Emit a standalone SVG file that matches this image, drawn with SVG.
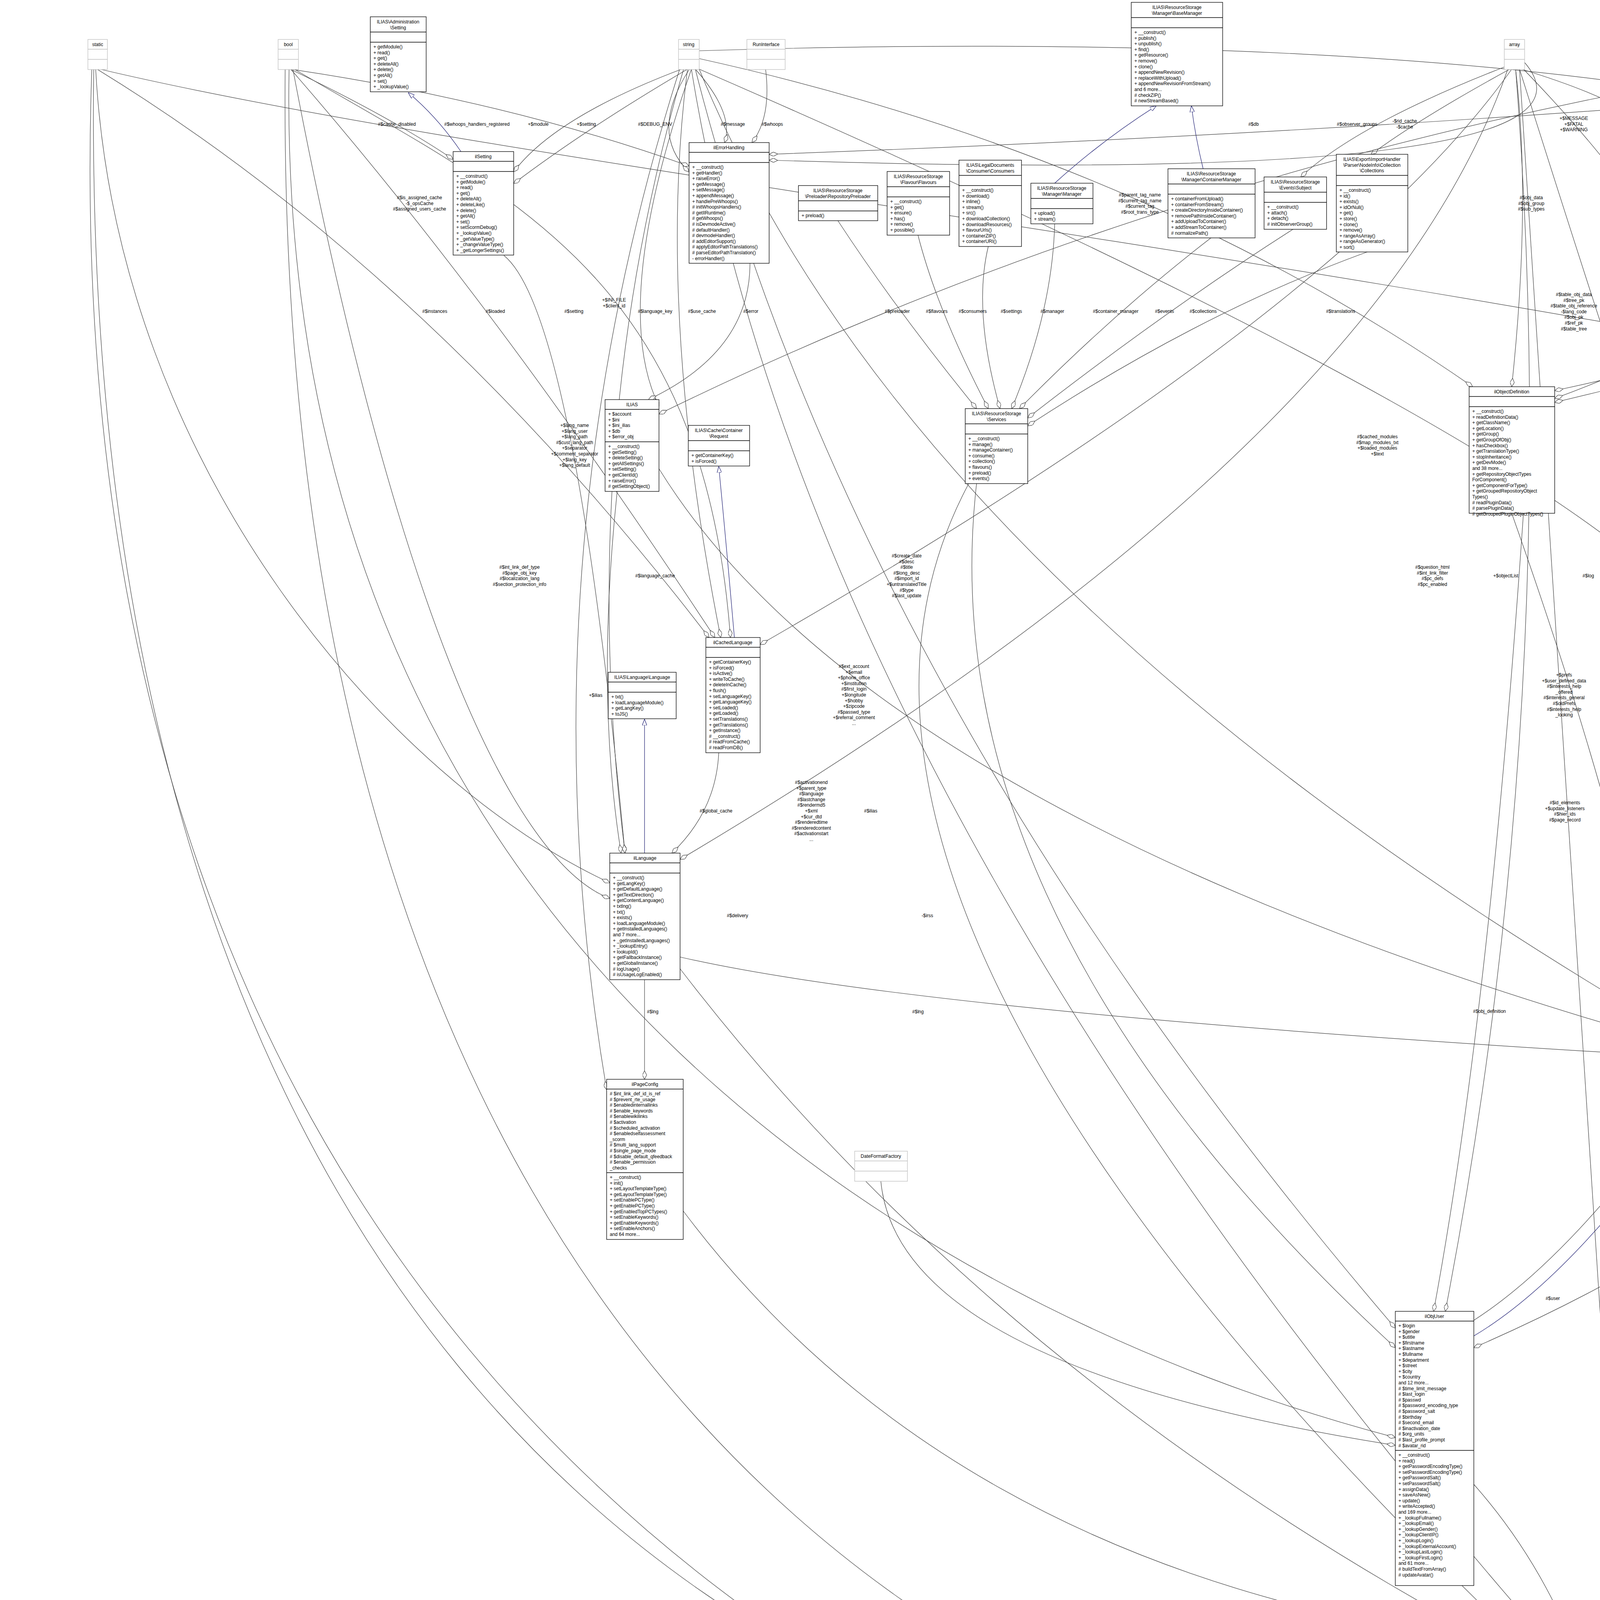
<svg xmlns="http://www.w3.org/2000/svg" width="6706" height="5247" viewBox="0 0 6706 5247">
<style>
text{font-family:"Liberation Sans",Arial,sans-serif;font-size:12px;fill:#000}
.c{text-anchor:middle}
.b{fill:#fff;stroke:#000;stroke-width:1.3}
.g{fill:#fff;stroke:#bfbfbf;stroke-width:1.3}
.p{fill:#bfbfbf;stroke:#000;stroke-width:1.3}
.l{stroke:#000;stroke-width:1.3}
.lg{stroke:#bfbfbf;stroke-width:1.3}
.e{fill:none;stroke:#404040;stroke-width:1.2;marker-end:url(#d)}
.h{fill:none;stroke:#191970;stroke-width:1.2;marker-end:url(#t)}
</style>
<defs>
<marker id="d" viewBox="0 0 22 11" refX="22" refY="5.5" markerWidth="22" markerHeight="11" markerUnits="userSpaceOnUse" orient="auto"><path d="M0,5.5 L11,0 L22,5.5 L11,11 Z" fill="#fff" stroke="#404040" stroke-width="1.2"/></marker>
<marker id="t" viewBox="0 0 16 12" refX="16" refY="6" markerWidth="16" markerHeight="12" markerUnits="userSpaceOnUse" orient="auto"><path d="M0,0 L16,6 L0,12 Z" fill="#fff" stroke="#191970" stroke-width="1.2"/></marker>
</defs>
<rect width="6706" height="5247" fill="#fff"/>

<g id="connectors">
<path class="h" d="M1180,388 Q1120,300 1045,237"/>
<path class="e" d="M745,178 Q1000,300 1160,408"/>
<path class="e" d="M750,178 Q1300,260 1764,425"/>
<path class="e" d="M1745,177 Q1420,300 1315,440"/>
<path class="e" d="M1760,177 Q1500,330 1315,470"/>
<path class="e" d="M1765,177 Q1660,340 1764,440"/>
<path class="e" d="M1780,177 Q1880,290 1855,365"/>
<path class="e" d="M1960,178 Q1975,300 1925,365"/>
<path class="e" d="M1770,177 Q1560,780 1687,1040"/>
<path class="e" d="M1290,654 Q1470,800 1600,2184"/>
<path class="e" d="M250,178 Q1100,700 1815,1632"/>
<path class="e" d="M745,178 Q1270,780 1830,1632"/>
<path class="e" d="M1760,177 Q1680,800 1845,1632"/>
<path class="e" d="M755,178 C1300,500 1800,700 1870,1632"/>
<path class="e" d="M1920,674 Q1920,900 1660,1023"/>
<path class="e" d="M2145,565 Q2297,797 2500,1046"/>
<path class="e" d="M2350,602 Q2400,797 2530,1046"/>
<path class="e" d="M2530,631 Q2490,797 2560,1046"/>
<path class="e" d="M2700,573 Q2694,797 2590,1046"/>
<path class="e" d="M3100,609 Q2856,797 2610,1046"/>
<path class="e" d="M3310,587 Q2981,797 2631,1070"/>
<path class="e" d="M3500,645 Q3080,797 2631,1090"/>
<path class="h" d="M2700,469 Q2820,360 2960,271"/>
<path class="h" d="M3080,432 Q3060,350 3050,271"/>
<path class="e" d="M1790,150 Q2920,400 3770,990"/>
<path class="e" d="M5022,100 Q3200,320 1687,1060"/>
<path class="e" d="M3855,170 Q3474,318 3330,453"/>
<path class="e" d="M3865,177 Q3640,300 3510,395"/>
<path class="e" d="M3870,177 Q3432,797 1946,1650"/>
<path class="e" d="M3880,177 Q3920,520 3870,990"/>
<path class="e" d="M5712,140 Q4030,320 1969,395"/>
<path class="e" d="M3903,160 Q4180,480 1969,410"/>
<path class="e" d="M3895,177 Q4356,318 4250,453"/>
<path class="e" d="M3900,177 Q4484,781 4340,1089"/>
<path class="e" d="M5720,177 Q5030,780 3980,1000"/>
<path class="e" d="M1790,177 Q4030,1150 4375,1620"/>
<path class="e" d="M3890,177 Q4213,1200 4375,1650"/>
<path class="e" d="M4250,587 Q4388,797 4330,1089"/>
<path class="e" d="M4600,566 Q4584,797 3980,1020"/>
<path class="e" d="M4740,631 Q4706,797 4420,1089"/>
<path class="e" d="M4780,631 Q4526,1140 4470,1588"/>
<path class="e" d="M5150,646 Q4964,797 3980,1030"/>
<path class="e" d="M5200,646 Q5141,797 4439,1100"/>
<path class="e" d="M4834,620 Q5259,797 5100,920"/>
<path class="e" d="M5200,264 Q5322,797 5200,920"/>
<path class="e" d="M5100,264 Q4249,1470 4430,1588"/>
<path class="e" d="M4760,631 Q4066,1474 4260,2570"/>
<path class="e" d="M4370,1194 Q4421,1474 4430,1588"/>
<path class="e" d="M4650,1252 Q4622,1474 4520,1588"/>
<path class="e" d="M5150,1361 Q5118,1474 5000,1654"/>
<path class="e" d="M4800,631 Q4700,1780 4300,2570"/>
<path class="e" d="M3870,1314 Q4140,2077 4230,2570"/>
<path class="e" d="M4340,1194 Q4354,2077 4260,2570"/>
<path class="e" d="M5100,1361 Q4635,2077 4420,2570"/>
<path class="e" d="M4450,1969 Q4438,2344 4300,2570"/>
<path class="e" d="M4900,1905 Q4710,2344 4440,2600"/>
<path class="e" d="M4840,2385 Q4823,2590 4440,2700"/>
<path class="e" d="M5050,2478 Q5042,2590 4440,2720"/>
<path class="e" d="M5270,2405 Q5244,2590 4440,2740"/>
<path class="e" d="M1790,177 Q2321,1480 4210,2600"/>
<path class="e" d="M1780,177 Q2186,1780 3572,3400"/>
<path class="e" d="M1750,177 Q1471,1140 1600,2184"/>
<path class="e" d="M1740,177 Q1330,1470 1553,2790"/>
<path class="e" d="M1580,1258 Q1525,1780 1590,2184"/>
<path class="e" d="M1687,1200 Q2229,2076 4210,2650"/>
<path class="h" d="M1880,1632 Q1860,1400 1840,1194"/>
<path class="h" d="M1650,2184 L1650,1841"/>
<path class="e" d="M1840,1927 Q1833,2076 1720,2184"/>
<path class="e" d="M3860,177 Q3526,1140 1741,2200"/>
<path class="e" d="M1770,177 Q2077,2080 4046,4300"/>
<path class="e" d="M2500,1238 Q2374,2344 3572,3450"/>
<path class="e" d="M2480,1238 Q1888,2344 4046,4350"/>
<path class="e" d="M1650,2508 L1650,2763"/>
<path class="e" d="M1741,2450 Q2350,2590 4210,2700"/>
<path class="e" d="M1741,2480 Q2600,3600 4046,4320"/>
<path class="e" d="M2255,3024 Q2300,3500 3572,3700"/>
<path class="e" d="M3900,1314 Q3813,2589 3670,3357"/>
<path class="h" d="M3773,3420 Q3975,3300 4210,3000"/>
<path class="e" d="M3773,3380 Q3975,3250 4210,2950"/>
<path class="e" d="M3880,177 Q4004,1780 3700,3357"/>
<path class="e" d="M3890,177 Q4006,2080 4150,4187"/>
<path class="e" d="M1749,3100 Q2500,4100 4046,4230"/>
<path class="e" d="M3773,3800 Q3950,4000 4046,4260"/>
<path class="e" d="M4330,3199 Q4200,3700 4150,4187"/>
<path class="h" d="M5900,4813 Q5100,4700 4280,4620"/>
<path class="e" d="M5745,177 Q6300,2500 6003,4813"/>
<path class="e" d="M6095,178 C6700,1500 6700,4400 6047,4990"/>
<path class="e" d="M5745,4547 Q5000,4600 4280,4600"/>
<path class="e" d="M5875,4547 Q5100,4620 4280,4610"/>
<path class="e" d="M6012,4547 Q5200,4560 4280,4580"/>
<path class="e" d="M5557,2377 Q5000,4200 4280,4560"/>
<path class="e" d="M1790,130 C4000,60 5650,300 5700,1010"/>
<path class="e" d="M5725,178 Q5560,500 5278,980"/>
<path class="e" d="M5715,178 Q5560,360 5361,420"/>
<path class="e" d="M5735,178 Q5560,1100 4599,1600"/>
<path class="e" d="M5750,178 Q5590,2460 4440,2580"/>
<path class="e" d="M5740,178 Q5160,2450 4280,4240"/>
<path class="e" d="M5760,178 Q5900,2525 3773,3450"/>
<path class="e" d="M5259,200 Q5700,2800 4280,4400"/>
<path class="e" d="M6090,178 Q5900,3500 6047,4900"/>
<path class="e" d="M240,178 C200,3000 1500,4700 4046,4700"/>
<path class="e" d="M730,178 C700,3500 2500,4600 4046,4680"/>
<path class="e" d="M235,178 C100,4000 3000,5247 5837,5100"/>
<path class="e" d="M740,178 C700,2500 2500,3400 3572,3680"/>
<path class="e" d="M260,178 C1200,400 3000,600 5059,1000"/>
<path class="e" d="M750,178 C1000,1500 1300,2200 1561,2300"/>
<path class="e" d="M245,178 C300,1200 1000,2000 1561,2260"/>

<text class="c" x="1016" y="322">#$cache_disabled</text>
<text class="c" x="1221" y="322">#$whoops_handlers_registered</text>
<text class="c" x="1378" y="322">+$module</text>
<text class="c" x="1501" y="322">+$setting</text>
<text class="c" x="1677" y="322">#$DEBUG_ENV</text>
<text class="c" x="1876" y="322">#$message</text>
<text class="c" x="1977" y="322">#$whoops</text>
<text class="c" x="1074" y="510"><tspan x="1074">#$is_assigned_cache</tspan><tspan x="1074" dy="14.6">-$_opsCache</tspan><tspan x="1074" dy="14.6">#$assigned_users_cache</tspan></text>
<text class="c" x="1572" y="772"><tspan x="1572">+$INI_FILE</tspan><tspan x="1572" dy="14.6">+$client_id</tspan></text>
<text class="c" x="1113" y="801">#$instances</text>
<text class="c" x="1268" y="801">#$loaded</text>
<text class="c" x="1469" y="801">#$setting</text>
<text class="c" x="1677" y="801">#$language_key</text>
<text class="c" x="1797" y="801">#$use_cache</text>
<text class="c" x="1922" y="801">#$error</text>
<text class="c" x="2297" y="801">#$preloader</text>
<text class="c" x="2398" y="801">#$flavours</text>
<text class="c" x="2490" y="801">#$consumers</text>
<text class="c" x="2589" y="801">#$settings</text>
<text class="c" x="2694" y="801">#$manager</text>
<text class="c" x="2856" y="801">#$container_manager</text>
<text class="c" x="2981" y="801">#$events</text>
<text class="c" x="3080" y="801">#$collections</text>
<text class="c" x="3432" y="801">#$translations</text>
<text class="c" x="2918" y="503"><tspan x="2918">#$parent_tag_name</tspan><tspan x="2918" dy="14.6">#$current_tag_name</tspan><tspan x="2918" dy="14.6">#$current_tag</tspan><tspan x="2918" dy="14.6">#$root_trans_type</tspan></text>
<text class="c" x="3209" y="322">#$db</text>
<text class="c" x="3474" y="322">#$observer_groups</text>
<text class="c" x="3596" y="314"><tspan x="3596">-$rid_cache</tspan><tspan x="3596" dy="14.6">-$cache</tspan></text>
<text class="c" x="3920" y="510"><tspan x="3920">#$obj_data</tspan><tspan x="3920" dy="14.6">#$obj_group</tspan><tspan x="3920" dy="14.6">#$sub_types</tspan></text>
<text class="c" x="4029" y="307"><tspan x="4029">+$MESSAGE</tspan><tspan x="4029" dy="14.6">+$FATAL</tspan><tspan x="4029" dy="14.6">+$WARNING</tspan></text>
<text class="c" x="4179" y="314"><tspan x="4179">-SENSTIVE_PARAMETER</tspan><tspan x="4179" dy="14.6">_NAMES</tspan></text>
<text class="c" x="4356" y="322">#$event_handling_data</text>
<text class="c" x="4484" y="525">#$listener</text>
<text class="c" x="5032" y="510"><tspan x="5032">+MODE_REPOSITORY</tspan><tspan x="5032" dy="14.6">+MODE_ADMINISTRATION</tspan><tspan x="5032" dy="14.6">+MODE_WORKSPACE</tspan></text>
<text class="c" x="4029" y="758"><tspan x="4029">#$table_obj_data</tspan><tspan x="4029" dy="14.6">#$tree_pk</tspan><tspan x="4029" dy="14.6">#$table_obj_reference</tspan><tspan x="4029" dy="14.6">-$lang_code</tspan><tspan x="4029" dy="14.6">#$obj_pk</tspan><tspan x="4029" dy="14.6">#$ref_pk</tspan><tspan x="4029" dy="14.6">#$table_tree</tspan></text>
<text class="c" x="4213" y="750"><tspan x="4213">#$oc_preloaded</tspan><tspan x="4213" dy="14.6">#$translation_cache</tspan><tspan x="4213" dy="14.6">#$is_saved_cache</tspan><tspan x="4213" dy="14.6">#$in_tree_cache</tspan><tspan x="4213" dy="14.6">-$path_id_cache</tspan><tspan x="4213" dy="14.6">#$parent_cache</tspan><tspan x="4213" dy="14.6">#$parent_type_cache</tspan><tspan x="4213" dy="14.6">#$depth_cache</tspan></text>
<text class="c" x="4388" y="801">-$event_handling_data</text>
<text class="c" x="4584" y="801">#$component_factory</text>
<text class="c" x="4706" y="801">#$logger</text>
<text class="c" x="4964" y="801">#$component_repository</text>
<text class="c" x="5141" y="801">#$component_repository</text>
<text class="c" x="5259" y="801">#$log</text>
<text class="c" x="5322" y="801">#$db</text>
<text class="c" x="1471" y="1093"><tspan x="1471">+$lang_name</tspan><tspan x="1471" dy="14.6">+$lang_user</tspan><tspan x="1471" dy="14.6">+$lang_path</tspan><tspan x="1471" dy="14.6">#$cust_lang_path</tspan><tspan x="1471" dy="14.6">+$separator</tspan><tspan x="1471" dy="14.6">+$comment_separator</tspan><tspan x="1471" dy="14.6">+$lang_key</tspan><tspan x="1471" dy="14.6">+$lang_default</tspan></text>
<text class="c" x="1330" y="1456"><tspan x="1330">#$int_link_def_type</tspan><tspan x="1330" dy="14.6">#$page_obj_key</tspan><tspan x="1330" dy="14.6">#$localization_lang</tspan><tspan x="1330" dy="14.6">#$section_protection_info</tspan></text>
<text class="c" x="1677" y="1478">#$language_cache</text>
<text class="c" x="2321" y="1427"><tspan x="2321">#$create_date</tspan><tspan x="2321" dy="14.6">#$desc</tspan><tspan x="2321" dy="14.6">#$title</tspan><tspan x="2321" dy="14.6">#$long_desc</tspan><tspan x="2321" dy="14.6">#$import_id</tspan><tspan x="2321" dy="14.6">+$untranslatedTitle</tspan><tspan x="2321" dy="14.6">#$type</tspan><tspan x="2321" dy="14.6">#$last_update</tspan></text>
<text class="c" x="2186" y="1710"><tspan x="2186">#$ext_account</tspan><tspan x="2186" dy="14.6">+$email</tspan><tspan x="2186" dy="14.6">+$phone_office</tspan><tspan x="2186" dy="14.6">+$institution</tspan><tspan x="2186" dy="14.6">#$first_login</tspan><tspan x="2186" dy="14.6">+$longitude</tspan><tspan x="2186" dy="14.6">+$hobby</tspan><tspan x="2186" dy="14.6">+$zipcode</tspan><tspan x="2186" dy="14.6">#$passwd_type</tspan><tspan x="2186" dy="14.6">+$referral_comment</tspan><tspan x="2186" dy="14.6">...</tspan></text>
<text class="c" x="1525" y="1784">+$ilias</text>
<text class="c" x="1833" y="2080">#$global_cache</text>
<text class="c" x="2077" y="2007"><tspan x="2077">#$activationend</tspan><tspan x="2077" dy="14.6">+$parent_type</tspan><tspan x="2077" dy="14.6">#$language</tspan><tspan x="2077" dy="14.6">#$lastchange</tspan><tspan x="2077" dy="14.6">#$rendermd5</tspan><tspan x="2077" dy="14.6">+$xml</tspan><tspan x="2077" dy="14.6">+$cur_dtd</tspan><tspan x="2077" dy="14.6">#$renderedtime</tspan><tspan x="2077" dy="14.6">#$renderedcontent</tspan><tspan x="2077" dy="14.6">#$activationstart</tspan><tspan x="2077" dy="14.6">...</tspan></text>
<text class="c" x="2229" y="2080">#$ilias</text>
<text class="c" x="1888" y="2348">#$delivery</text>
<text class="c" x="2374" y="2348">-$irss</text>
<text class="c" x="1671" y="2594">#$lng</text>
<text class="c" x="2350" y="2594">#$lng</text>
<text class="c" x="3526" y="1122"><tspan x="3526">#$cached_modules</tspan><tspan x="3526" dy="14.6">#$map_modules_txt</tspan><tspan x="3526" dy="14.6">+$loaded_modules</tspan><tspan x="3526" dy="14.6">+$text</tspan></text>
<text class="c" x="3667" y="1456"><tspan x="3667">#$question_html</tspan><tspan x="3667" dy="14.6">#$int_link_filter</tspan><tspan x="3667" dy="14.6">#$pc_defs</tspan><tspan x="3667" dy="14.6">#$pc_enabled</tspan></text>
<text class="c" x="3855" y="1478">+$objectList</text>
<text class="c" x="4066" y="1478">#$log</text>
<text class="c" x="4249" y="1478">#$db</text>
<text class="c" x="4421" y="1478">#$eventHandler</text>
<text class="c" x="4622" y="1478">-$tree_impl</text>
<text class="c" x="4526" y="1144">#$logger</text>
<text class="c" x="5118" y="1478">#$rbacreview</text>
<text class="c" x="4004" y="1732"><tspan x="4004">+$prefs</tspan><tspan x="4004" dy="14.6">+$user_defined_data</tspan><tspan x="4004" dy="14.6">#$interests_help</tspan><tspan x="4004" dy="14.6">_offered</tspan><tspan x="4004" dy="14.6">#$interests_general</tspan><tspan x="4004" dy="14.6">#$oldPrefs</tspan><tspan x="4004" dy="14.6">#$interests_help</tspan><tspan x="4004" dy="14.6">_looking</tspan></text>
<text class="c" x="4697" y="1776"><tspan x="4697">#$obj_log</tspan><tspan x="4697" dy="14.6">#$log</tspan></text>
<text class="c" x="4006" y="2059"><tspan x="4006">#$id_elements</tspan><tspan x="4006" dy="14.6">+$update_listeners</tspan><tspan x="4006" dy="14.6">#$hier_ids</tspan><tspan x="4006" dy="14.6">#$page_record</tspan></text>
<text class="c" x="4140" y="2081">#$obj_definition</text>
<text class="c" x="4354" y="2081">#$app_event_handler</text>
<text class="c" x="4635" y="2081">#$rbac_review</text>
<text class="c" x="4438" y="2348">#$tree</text>
<text class="c" x="4710" y="2348">#$rbac_admin</text>
<text class="c" x="4823" y="2594">-$translations_repository</text>
<text class="c" x="5042" y="2594">-$object_properties</text>
<text class="c" x="5254" y="2594">-$properties_aggregator</text>
<text class="c" x="3813" y="2593">#$obj_definition</text>
<text class="c" x="3975" y="3328">#$user</text>
<text class="c" x="5660" y="404">+TABLE_NAME</text>
<text class="c" x="5560" y="432"><tspan x="5560">+FILTER_NOT_INTERNAL</tspan><tspan x="5560" dy="14.6">+FILTER_ALL_GLOBAL</tspan><tspan x="5560" dy="14.6">+FILTER_INTERNAL</tspan><tspan x="5560" dy="14.6">+FILTER_ALL</tspan><tspan x="5560" dy="14.6">+FILTER_TEMPLATES</tspan><tspan x="5560" dy="14.6">+FILTER_ALL_LOCAL</tspan></text>
<text class="c" x="5470" y="370">+PLUGIN_BASE_PATH</text>
<text class="c" x="5560" y="1054"><tspan x="5560">+TREE_TYPE_NESTED_SET</tspan><tspan x="5560" dy="14.6">+RELATION_PARENT</tspan><tspan x="5560" dy="14.6">+RELATION_CHILD</tspan><tspan x="5560" dy="14.6">+TREE_TYPE_MATERIALIZED</tspan><tspan x="5560" dy="14.6">_PATH</tspan><tspan x="5560" dy="14.6">#DEFAULT_LANGUAGE</tspan><tspan x="5560" dy="14.6">+RELATION_SIBLING</tspan><tspan x="5560" dy="14.6">+POS_LAST_NODE</tspan><tspan x="5560" dy="14.6">+POS_FIRST_NODE</tspan><tspan x="5560" dy="14.6">+RELATION_EQUALS</tspan><tspan x="5560" dy="14.6">+RELATION_NONE</tspan></text>
<text class="c" x="5160" y="2444"><tspan x="5160">+SEC_PROTECT_NONE</tspan><tspan x="5160" dy="14.6">+SEC_PROTECT_EDITABLE</tspan><tspan x="5160" dy="14.6">+SEC_PROTECT_PROTECTED</tspan></text>
<text class="c" x="5590" y="2444"><tspan x="5590">+TABLE_OBJECT_DATA</tspan><tspan x="5590" dy="14.6">+LONG_DESC_LENGTH</tspan><tspan x="5590" dy="14.6">+TITLE_LENGTH</tspan><tspan x="5590" dy="14.6">+DESC_LENGTH</tspan></text>
<text class="c" x="5900" y="2514"><tspan x="5900">+PASSWD_CRYPTED</tspan><tspan x="5900" dy="14.6">+NO_AVATAR_RID</tspan><tspan x="5900" dy="14.6">+PASSWD_PLAIN</tspan></text>
<text class="c" x="6625" y="2804">+TYPE_PAGE</text>
<text class="c" x="5745" y="4624">#$dom</text>
<text class="c" x="5875" y="4624">#$node</text>
<text class="c" x="6030" y="4624">#$offline_handler</text>
<text class="c" x="5450" y="3330">#$lom_services</text>
</g>

<g id="static"><rect class="g" x="225" y="101" width="50" height="77"/><line class="lg" x1="225" y1="126" x2="275" y2="126"/><line class="lg" x1="225" y1="152" x2="275" y2="152"/><text class="c" x="250" y="118">static</text></g>
<g id="bool"><rect class="g" x="712" y="101" width="52" height="77"/><line class="lg" x1="712" y1="126" x2="764" y2="126"/><line class="lg" x1="712" y1="152" x2="764" y2="152"/><text class="c" x="738" y="118">bool</text></g>
<g id="string"><rect class="g" x="1737" y="101" width="53" height="77"/><line class="lg" x1="1737" y1="126" x2="1790" y2="126"/><line class="lg" x1="1737" y1="152" x2="1790" y2="152"/><text class="c" x="1763" y="118">string</text></g>
<g id="RunInterface"><rect class="g" x="1912" y="101" width="98" height="77"/><line class="lg" x1="1912" y1="126" x2="2010" y2="126"/><line class="lg" x1="1912" y1="152" x2="2010" y2="152"/><text class="c" x="1961" y="118">RunInterface</text></g>
<g id="array"><rect class="g" x="3851" y="101" width="52" height="77"/><line class="lg" x1="3851" y1="126" x2="3903" y2="126"/><line class="lg" x1="3851" y1="152" x2="3903" y2="152"/><text class="c" x="3877" y="118">array</text></g>
<g id="int"><rect class="g" x="5712" y="101" width="42" height="77"/><line class="lg" x1="5712" y1="126" x2="5754" y2="126"/><line class="lg" x1="5712" y1="152" x2="5754" y2="152"/><text class="c" x="5733" y="118">int</text></g>
<g id="void"><rect class="g" x="6072" y="101" width="48" height="77"/><line class="lg" x1="6072" y1="126" x2="6120" y2="126"/><line class="lg" x1="6072" y1="152" x2="6120" y2="152"/><text class="c" x="6096" y="118">void</text></g>

<g id="AdministrationSetting"><rect class="b" x="948" y="43" width="143" height="192"/><line class="l" x1="948" y1="82" x2="1091" y2="82"/><line class="l" x1="948" y1="108" x2="1091" y2="108"/>
<text class="c" x="1019" y="60"><tspan x="1019">ILIAS\Administration</tspan><tspan x="1019" dy="14.6">\Setting</tspan></text>
<text x="956" y="124"><tspan x="956">+ getModule()</tspan><tspan x="956" dy="14.6">+ read()</tspan><tspan x="956" dy="14.6">+ get()</tspan><tspan x="956" dy="14.6">+ deleteAll()</tspan><tspan x="956" dy="14.6">+ delete()</tspan><tspan x="956" dy="14.6">+ getAll()</tspan><tspan x="956" dy="14.6">+ set()</tspan><tspan x="956" dy="14.6">+ _lookupValue()</tspan></text></g>

<g id="ilSetting"><rect class="b" x="1160" y="388" width="155" height="265"/><line class="l" x1="1160" y1="413" x2="1315" y2="413"/><line class="l" x1="1160" y1="439" x2="1315" y2="439"/>
<text class="c" x="1237" y="405">ilSetting</text>
<text x="1168" y="455"><tspan x="1168">+ __construct()</tspan><tspan x="1168" dy="14.6">+ getModule()</tspan><tspan x="1168" dy="14.6">+ read()</tspan><tspan x="1168" dy="14.6">+ get()</tspan><tspan x="1168" dy="14.6">+ deleteAll()</tspan><tspan x="1168" dy="14.6">+ deleteLike()</tspan><tspan x="1168" dy="14.6">+ delete()</tspan><tspan x="1168" dy="14.6">+ getAll()</tspan><tspan x="1168" dy="14.6">+ set()</tspan><tspan x="1168" dy="14.6">+ setScormDebug()</tspan><tspan x="1168" dy="14.6">+ _lookupValue()</tspan><tspan x="1168" dy="14.6">+ _getValueType()</tspan><tspan x="1168" dy="14.6">+ _changeValueType()</tspan><tspan x="1168" dy="14.6">+ _getLongerSettings()</tspan></text></g>

<g id="ilErrorHandling"><rect class="b" x="1764" y="365" width="205" height="309"/><line class="l" x1="1764" y1="390" x2="1969" y2="390"/><line class="l" x1="1764" y1="416" x2="1969" y2="416"/>
<text class="c" x="1866" y="382">ilErrorHandling</text>
<text x="1772" y="432"><tspan x="1772">+ __construct()</tspan><tspan x="1772" dy="14.6">+ getHandler()</tspan><tspan x="1772" dy="14.6">+ raiseError()</tspan><tspan x="1772" dy="14.6">+ getMessage()</tspan><tspan x="1772" dy="14.6">+ setMessage()</tspan><tspan x="1772" dy="14.6">+ appendMessage()</tspan><tspan x="1772" dy="14.6">+ handlePreWhoops()</tspan><tspan x="1772" dy="14.6"># initWhoopsHandlers()</tspan><tspan x="1772" dy="14.6"># getIlRuntime()</tspan><tspan x="1772" dy="14.6"># getWhoops()</tspan><tspan x="1772" dy="14.6"># isDevmodeActive()</tspan><tspan x="1772" dy="14.6"># defaultHandler()</tspan><tspan x="1772" dy="14.6"># devmodeHandler()</tspan><tspan x="1772" dy="14.6"># addEditorSupport()</tspan><tspan x="1772" dy="14.6"># applyEditorPathTranslations()</tspan><tspan x="1772" dy="14.6"># parseEditorPathTranslation()</tspan><tspan x="1772" dy="14.6">- errorHandler()</tspan></text></g>

<g id="RepositoryPreloader"><rect class="b" x="2044" y="475" width="203" height="90"/><line class="l" x1="2044" y1="514" x2="2247" y2="514"/><line class="l" x1="2044" y1="540" x2="2247" y2="540"/>
<text class="c" x="2145" y="492"><tspan x="2145">ILIAS\ResourceStorage</tspan><tspan x="2145" dy="14.6">\Preloader\RepositoryPreloader</tspan></text>
<text x="2052" y="556">+ preload()</text></g>

<g id="Flavours"><rect class="b" x="2271" y="439" width="160" height="163"/><line class="l" x1="2271" y1="478" x2="2431" y2="478"/><line class="l" x1="2271" y1="504" x2="2431" y2="504"/>
<text class="c" x="2351" y="456"><tspan x="2351">ILIAS\ResourceStorage</tspan><tspan x="2351" dy="14.6">\Flavour\Flavours</tspan></text>
<text x="2279" y="520"><tspan x="2279">+ __construct()</tspan><tspan x="2279" dy="14.6">+ get()</tspan><tspan x="2279" dy="14.6">+ ensure()</tspan><tspan x="2279" dy="14.6">+ has()</tspan><tspan x="2279" dy="14.6">+ remove()</tspan><tspan x="2279" dy="14.6">+ possible()</tspan></text></g>

<g id="Consumers"><rect class="b" x="2455" y="410" width="160" height="221"/><line class="l" x1="2455" y1="449" x2="2615" y2="449"/><line class="l" x1="2455" y1="475" x2="2615" y2="475"/>
<text class="c" x="2535" y="427"><tspan x="2535">ILIAS\LegalDocuments</tspan><tspan x="2535" dy="14.6">\Consumer\Consumers</tspan></text>
<text x="2463" y="491"><tspan x="2463">+ __construct()</tspan><tspan x="2463" dy="14.6">+ download()</tspan><tspan x="2463" dy="14.6">+ inline()</tspan><tspan x="2463" dy="14.6">+ stream()</tspan><tspan x="2463" dy="14.6">+ src()</tspan><tspan x="2463" dy="14.6">+ downloadCollection()</tspan><tspan x="2463" dy="14.6">+ downloadResources()</tspan><tspan x="2463" dy="14.6">+ flavourUrls()</tspan><tspan x="2463" dy="14.6">+ containerZIP()</tspan><tspan x="2463" dy="14.6">+ containerURI()</tspan></text></g>

<g id="Manager"><rect class="b" x="2639" y="469" width="159" height="104"/><line class="l" x1="2639" y1="508" x2="2798" y2="508"/><line class="l" x1="2639" y1="534" x2="2798" y2="534"/>
<text class="c" x="2718" y="486"><tspan x="2718">ILIAS\ResourceStorage</tspan><tspan x="2718" dy="14.6">\Manager\Manager</tspan></text>
<text x="2647" y="550"><tspan x="2647">+ upload()</tspan><tspan x="2647" dy="14.6">+ stream()</tspan></text></g>

<g id="BaseManager"><rect class="b" x="2896" y="6" width="234" height="265"/><line class="l" x1="2896" y1="45" x2="3130" y2="45"/><line class="l" x1="2896" y1="71" x2="3130" y2="71"/>
<text class="c" x="3013" y="23"><tspan x="3013">ILIAS\ResourceStorage</tspan><tspan x="3013" dy="14.6">\Manager\BaseManager</tspan></text>
<text x="2904" y="87"><tspan x="2904">+ __construct()</tspan><tspan x="2904" dy="14.6">+ publish()</tspan><tspan x="2904" dy="14.6">+ unpublish()</tspan><tspan x="2904" dy="14.6">+ find()</tspan><tspan x="2904" dy="14.6">+ getResource()</tspan><tspan x="2904" dy="14.6">+ remove()</tspan><tspan x="2904" dy="14.6">+ clone()</tspan><tspan x="2904" dy="14.6">+ appendNewRevision()</tspan><tspan x="2904" dy="14.6">+ replaceWithUpload()</tspan><tspan x="2904" dy="14.6">+ appendNewRevisionFromStream()</tspan><tspan x="2904" dy="14.6">and 6 more...</tspan><tspan x="2904" dy="14.6"># checkZIP()</tspan><tspan x="2904" dy="14.6"># newStreamBased()</tspan></text></g>

<g id="ContainerManager"><rect class="b" x="2990" y="432" width="223" height="177"/><line class="l" x1="2990" y1="471" x2="3213" y2="471"/><line class="l" x1="2990" y1="497" x2="3213" y2="497"/>
<text class="c" x="3101" y="449"><tspan x="3101">ILIAS\ResourceStorage</tspan><tspan x="3101" dy="14.6">\Manager\ContainerManager</tspan></text>
<text x="2998" y="513"><tspan x="2998">+ containerFromUpload()</tspan><tspan x="2998" dy="14.6">+ containerFromStream()</tspan><tspan x="2998" dy="14.6">+ createDirectoryInsideContainer()</tspan><tspan x="2998" dy="14.6">+ removePathInsideContainer()</tspan><tspan x="2998" dy="14.6">+ addUploadToContainer()</tspan><tspan x="2998" dy="14.6">+ addStreamToContainer()</tspan><tspan x="2998" dy="14.6"># normalizePath()</tspan></text></g>

<g id="Subject"><rect class="b" x="3236" y="453" width="160" height="134"/><line class="l" x1="3236" y1="492" x2="3396" y2="492"/><line class="l" x1="3236" y1="518" x2="3396" y2="518"/>
<text class="c" x="3316" y="470"><tspan x="3316">ILIAS\ResourceStorage</tspan><tspan x="3316" dy="14.6">\Events\Subject</tspan></text>
<text x="3244" y="534"><tspan x="3244">+ __construct()</tspan><tspan x="3244" dy="14.6">+ attach()</tspan><tspan x="3244" dy="14.6">+ detach()</tspan><tspan x="3244" dy="14.6"># initObserverGroup()</tspan></text></g>

<g id="Collections"><rect class="b" x="3421" y="395" width="183" height="250"/><line class="l" x1="3421" y1="449" x2="3604" y2="449"/><line class="l" x1="3421" y1="475" x2="3604" y2="475"/>
<text class="c" x="3512" y="412"><tspan x="3512">ILIAS\Export\ImportHandler</tspan><tspan x="3512" dy="14.6">\Parser\NodeInfo\Collection</tspan><tspan x="3512" dy="14.6">\Collections</tspan></text>
<text x="3429" y="491"><tspan x="3429">+ __construct()</tspan><tspan x="3429" dy="14.6">+ id()</tspan><tspan x="3429" dy="14.6">+ exists()</tspan><tspan x="3429" dy="14.6">+ idOrNull()</tspan><tspan x="3429" dy="14.6">+ get()</tspan><tspan x="3429" dy="14.6">+ store()</tspan><tspan x="3429" dy="14.6">+ clone()</tspan><tspan x="3429" dy="14.6">+ remove()</tspan><tspan x="3429" dy="14.6">+ rangeAsArray()</tspan><tspan x="3429" dy="14.6">+ rangeAsGenerator()</tspan><tspan x="3429" dy="14.6">+ sort()</tspan></text></g>

<g id="ilDBInterface"><rect class="b" x="5022" y="13" width="237" height="251"/><line class="l" x1="5022" y1="38" x2="5259" y2="38"/><line class="l" x1="5022" y1="64" x2="5259" y2="64"/>
<text class="c" x="5140" y="30">ilDBInterface</text>
<text x="5030" y="80"><tspan x="5030">+ doesCollationSupportMB4Strings()</tspan><tspan x="5030" dy="14.6">+ sanitizeMB4StringIfNotSupported()</tspan><tspan x="5030" dy="14.6">+ initFromIniFile()</tspan><tspan x="5030" dy="14.6">+ connect()</tspan><tspan x="5030" dy="14.6">+ nextId()</tspan><tspan x="5030" dy="14.6">+ createTable()</tspan><tspan x="5030" dy="14.6">+ addPrimaryKey()</tspan><tspan x="5030" dy="14.6">+ createSequence()</tspan><tspan x="5030" dy="14.6">+ getSequenceName()</tspan><tspan x="5030" dy="14.6">+ tableExists()</tspan><tspan x="5030" dy="14.6">and 78 more...</tspan><tspan x="5030" dy="14.6">+ getReservedWords()</tspan><tspan x="5030" dy="14.6">+ isReservedWord()</tspan></text></g>

<g id="ilArtifactEventHandlingData"><rect class="b" x="4157" y="453" width="182" height="134"/><line class="l" x1="4157" y1="478" x2="4339" y2="478"/><line class="l" x1="4157" y1="504" x2="4339" y2="504"/>
<text class="c" x="4248" y="470">ilArtifactEventHandlingData</text>
<text x="4165" y="520"><tspan x="4165">+ __construct()</tspan><tspan x="4165" dy="14.6">+ hasEvent()</tspan><tspan x="4165" dy="14.6">+ getEvent()</tspan><tspan x="4165" dy="14.6">+ getEventsByType()</tspan><tspan x="4165" dy="14.6"># readEventHandlingData()</tspan></text></g>

<g id="ilComponentFactory"><rect class="b" x="4525" y="476" width="174" height="90"/><line class="l" x1="4525" y1="501" x2="4699" y2="501"/><line class="l" x1="4525" y1="527" x2="4699" y2="527"/>
<text class="c" x="4612" y="493">ilComponentFactory</text>
<text x="4533" y="543"><tspan x="4533">+ getPlugin()</tspan><tspan x="4533" dy="14.6">+ getActivePluginsInSlot()</tspan></text></g>

<g id="ilLogger"><rect class="b" x="4724" y="409" width="110" height="222"/><line class="l" x1="4724" y1="434" x2="4834" y2="434"/><line class="l" x1="4724" y1="460" x2="4834" y2="460"/>
<text class="c" x="4779" y="426">ilLogger</text>
<text x="4732" y="476"><tspan x="4732">+ __construct()</tspan><tspan x="4732" dy="14.6">+ isHandling()</tspan><tspan x="4732" dy="14.6">+ log()</tspan><tspan x="4732" dy="14.6">+ dump()</tspan><tspan x="4732" dy="14.6">+ debug()</tspan><tspan x="4732" dy="14.6">+ info()</tspan><tspan x="4732" dy="14.6">+ notice()</tspan><tspan x="4732" dy="14.6">+ warning()</tspan><tspan x="4732" dy="14.6">+ error()</tspan><tspan x="4732" dy="14.6">+ critical()</tspan><tspan x="4732" dy="14.6">and 7 more...</tspan></text></g>

<g id="ilComponentRepository"><rect class="b" x="5131" y="395" width="230" height="251"/><line class="l" x1="5131" y1="420" x2="5361" y2="420"/><line class="l" x1="5131" y1="446" x2="5361" y2="446"/>
<text class="c" x="5246" y="412">ilComponentRepository</text>
<text x="5139" y="462"><tspan x="5139">+ hasComponent()</tspan><tspan x="5139" dy="14.6">+ hasComponentId()</tspan><tspan x="5139" dy="14.6">+ getComponents()</tspan><tspan x="5139" dy="14.6">+ getComponentById()</tspan><tspan x="5139" dy="14.6">+ getComponentByTypeAndName()</tspan><tspan x="5139" dy="14.6">+ hasPluginSlotId()</tspan><tspan x="5139" dy="14.6">+ getPluginSlots()</tspan><tspan x="5139" dy="14.6">+ getPluginSlotById()</tspan><tspan x="5139" dy="14.6">+ hasPluginId()</tspan><tspan x="5139" dy="14.6">+ getPlugins()</tspan><tspan x="5139" dy="14.6">+ getPluginById()</tspan><tspan x="5139" dy="14.6">+ getPluginByName()</tspan><tspan x="5139" dy="14.6">+ hasActivatedPlugin()</tspan></text></g>

<g id="ILIAS"><rect class="b" x="1549" y="1023" width="138" height="235"/><line class="l" x1="1549" y1="1048" x2="1687" y2="1048"/><line class="l" x1="1549" y1="1131" x2="1687" y2="1131"/>
<text class="c" x="1618" y="1040">ILIAS</text>
<text x="1557" y="1064"><tspan x="1557">+ $account</tspan><tspan x="1557" dy="14.6">+ $ini</tspan><tspan x="1557" dy="14.6">+ $ini_ilias</tspan><tspan x="1557" dy="14.6">+ $db</tspan><tspan x="1557" dy="14.6">+ $error_obj</tspan></text>
<text x="1557" y="1147"><tspan x="1557">+ __construct()</tspan><tspan x="1557" dy="14.6">+ getSetting()</tspan><tspan x="1557" dy="14.6">+ deleteSetting()</tspan><tspan x="1557" dy="14.6">+ getAllSettings()</tspan><tspan x="1557" dy="14.6">+ setSetting()</tspan><tspan x="1557" dy="14.6">+ getClientId()</tspan><tspan x="1557" dy="14.6">+ raiseError()</tspan><tspan x="1557" dy="14.6"># getSettingObject()</tspan></text></g>

<g id="Request"><rect class="b" x="1762" y="1089" width="157" height="104"/><line class="l" x1="1762" y1="1128" x2="1919" y2="1128"/><line class="l" x1="1762" y1="1154" x2="1919" y2="1154"/>
<text class="c" x="1840" y="1106"><tspan x="1840">ILIAS\Cache\Container</tspan><tspan x="1840" dy="14.6">\Request</tspan></text>
<text x="1770" y="1170"><tspan x="1770">+ getContainerKey()</tspan><tspan x="1770" dy="14.6">+ isForced()</tspan></text></g>

<g id="Services"><rect class="b" x="2471" y="1046" width="160" height="192"/><line class="l" x1="2471" y1="1085" x2="2631" y2="1085"/><line class="l" x1="2471" y1="1111" x2="2631" y2="1111"/>
<text class="c" x="2551" y="1063"><tspan x="2551">ILIAS\ResourceStorage</tspan><tspan x="2551" dy="14.6">\Services</tspan></text>
<text x="2479" y="1127"><tspan x="2479">+ __construct()</tspan><tspan x="2479" dy="14.6">+ manage()</tspan><tspan x="2479" dy="14.6">+ manageContainer()</tspan><tspan x="2479" dy="14.6">+ consume()</tspan><tspan x="2479" dy="14.6">+ collection()</tspan><tspan x="2479" dy="14.6">+ flavours()</tspan><tspan x="2479" dy="14.6">+ preload()</tspan><tspan x="2479" dy="14.6">+ events()</tspan></text></g>

<g id="ilCachedLanguage"><rect class="b" x="1807" y="1632" width="139" height="295"/><line class="l" x1="1807" y1="1657" x2="1946" y2="1657"/><line class="l" x1="1807" y1="1683" x2="1946" y2="1683"/>
<text class="c" x="1876" y="1649">ilCachedLanguage</text>
<text x="1815" y="1699"><tspan x="1815">+ getContainerKey()</tspan><tspan x="1815" dy="14.6">+ isForced()</tspan><tspan x="1815" dy="14.6">+ isActive()</tspan><tspan x="1815" dy="14.6">+ writeToCache()</tspan><tspan x="1815" dy="14.6">+ deleteInCache()</tspan><tspan x="1815" dy="14.6">+ flush()</tspan><tspan x="1815" dy="14.6">+ setLanguageKey()</tspan><tspan x="1815" dy="14.6">+ getLanguageKey()</tspan><tspan x="1815" dy="14.6">+ setLoaded()</tspan><tspan x="1815" dy="14.6">+ getLoaded()</tspan><tspan x="1815" dy="14.6">+ setTranslations()</tspan><tspan x="1815" dy="14.6">+ getTranslations()</tspan><tspan x="1815" dy="14.6">+ getInstance()</tspan><tspan x="1815" dy="14.6"># __construct()</tspan><tspan x="1815" dy="14.6"># readFromCache()</tspan><tspan x="1815" dy="14.6"># readFromDB()</tspan></text></g>

<g id="LanguageLanguage"><rect class="b" x="1557" y="1721" width="174" height="119"/><line class="l" x1="1557" y1="1746" x2="1731" y2="1746"/><line class="l" x1="1557" y1="1772" x2="1731" y2="1772"/>
<text class="c" x="1644" y="1738">ILIAS\Language\Language</text>
<text x="1565" y="1788"><tspan x="1565">+ txt()</tspan><tspan x="1565" dy="14.6">+ loadLanguageModule()</tspan><tspan x="1565" dy="14.6">+ getLangKey()</tspan><tspan x="1565" dy="14.6">+ toJS()</tspan></text></g>

<g id="ilLanguage"><rect class="b" x="1561" y="2184" width="180" height="324"/><line class="l" x1="1561" y1="2209" x2="1741" y2="2209"/><line class="l" x1="1561" y1="2235" x2="1741" y2="2235"/>
<text class="c" x="1651" y="2201">ilLanguage</text>
<text x="1569" y="2251"><tspan x="1569">+ __construct()</tspan><tspan x="1569" dy="14.6">+ getLangKey()</tspan><tspan x="1569" dy="14.6">+ getDefaultLanguage()</tspan><tspan x="1569" dy="14.6">+ getTextDirection()</tspan><tspan x="1569" dy="14.6">+ getContentLanguage()</tspan><tspan x="1569" dy="14.6">+ txtlng()</tspan><tspan x="1569" dy="14.6">+ txt()</tspan><tspan x="1569" dy="14.6">+ exists()</tspan><tspan x="1569" dy="14.6">+ loadLanguageModule()</tspan><tspan x="1569" dy="14.6">+ getInstalledLanguages()</tspan><tspan x="1569" dy="14.6">and 7 more...</tspan><tspan x="1569" dy="14.6">+ _getInstalledLanguages()</tspan><tspan x="1569" dy="14.6">+ _lookupEntry()</tspan><tspan x="1569" dy="14.6">+ lookupId()</tspan><tspan x="1569" dy="14.6">+ getFallbackInstance()</tspan><tspan x="1569" dy="14.6">+ getGlobalInstance()</tspan><tspan x="1569" dy="14.6"># logUsage()</tspan><tspan x="1569" dy="14.6"># isUsageLogEnabled()</tspan></text></g>

<g id="ilPageConfig"><rect class="b" x="1553" y="2763" width="196" height="410"/><line class="l" x1="1553" y1="2788" x2="1749" y2="2788"/><line class="l" x1="1553" y1="3002" x2="1749" y2="3002"/>
<text class="c" x="1651" y="2780">ilPageConfig</text>
<text x="1561" y="2804"><tspan x="1561"># $int_link_def_id_is_ref</tspan><tspan x="1561" dy="14.6"># $prevent_rte_usage</tspan><tspan x="1561" dy="14.6"># $enabledinternallinks</tspan><tspan x="1561" dy="14.6"># $enable_keywords</tspan><tspan x="1561" dy="14.6"># $enablewikilinks</tspan><tspan x="1561" dy="14.6"># $activation</tspan><tspan x="1561" dy="14.6"># $scheduled_activation</tspan><tspan x="1561" dy="14.6"># $enabledselfassessment</tspan><tspan x="1561" dy="14.6">_scorm</tspan><tspan x="1561" dy="14.6"># $multi_lang_support</tspan><tspan x="1561" dy="14.6"># $single_page_mode</tspan><tspan x="1561" dy="14.6"># $disable_default_qfeedback</tspan><tspan x="1561" dy="14.6"># $enable_permission</tspan><tspan x="1561" dy="14.6">_checks</tspan></text>
<text x="1561" y="3018"><tspan x="1561">+ __construct()</tspan><tspan x="1561" dy="14.6">+ init()</tspan><tspan x="1561" dy="14.6">+ setLayoutTemplateType()</tspan><tspan x="1561" dy="14.6">+ getLayoutTemplateType()</tspan><tspan x="1561" dy="14.6">+ setEnablePCType()</tspan><tspan x="1561" dy="14.6">+ getEnablePCType()</tspan><tspan x="1561" dy="14.6">+ getEnabledTopPCTypes()</tspan><tspan x="1561" dy="14.6">+ setEnableKeywords()</tspan><tspan x="1561" dy="14.6">+ getEnableKeywords()</tspan><tspan x="1561" dy="14.6">+ setEnableAnchors()</tspan><tspan x="1561" dy="14.6">and 64 more...</tspan></text></g>

<g id="DateFormatFactory"><rect class="g" x="2188" y="2947" width="135" height="77"/><line class="lg" x1="2188" y1="2972" x2="2323" y2="2972"/><line class="lg" x1="2188" y1="2998" x2="2323" y2="2998"/><text class="c" x="2255" y="2964">DateFormatFactory</text></g>

<g id="ilObjectDefinition"><rect class="b" x="3761" y="990" width="219" height="324"/><line class="l" x1="3761" y1="1015" x2="3980" y2="1015"/><line class="l" x1="3761" y1="1041" x2="3980" y2="1041"/>
<text class="c" x="3870" y="1007">ilObjectDefinition</text>
<text x="3769" y="1057"><tspan x="3769">+ __construct()</tspan><tspan x="3769" dy="14.6">+ readDefinitionData()</tspan><tspan x="3769" dy="14.6">+ getClassName()</tspan><tspan x="3769" dy="14.6">+ getLocation()</tspan><tspan x="3769" dy="14.6">+ getGroup()</tspan><tspan x="3769" dy="14.6">+ getGroupOfObj()</tspan><tspan x="3769" dy="14.6">+ hasCheckbox()</tspan><tspan x="3769" dy="14.6">+ getTranslationType()</tspan><tspan x="3769" dy="14.6">+ stopInheritance()</tspan><tspan x="3769" dy="14.6">+ getDevMode()</tspan><tspan x="3769" dy="14.6">and 38 more...</tspan><tspan x="3769" dy="14.6">+ getRepositoryObjectTypes</tspan><tspan x="3769" dy="14.6">ForComponent()</tspan><tspan x="3769" dy="14.6">+ getComponentForType()</tspan><tspan x="3769" dy="14.6">+ getGroupedRepositoryObject</tspan><tspan x="3769" dy="14.6">Types()</tspan><tspan x="3769" dy="14.6"># readPluginData()</tspan><tspan x="3769" dy="14.6"># parsePluginData()</tspan><tspan x="3769" dy="14.6"># getGroupedPluginObjectTypes()</tspan></text></g>

<g id="ilAppEventHandler"><rect class="b" x="4308" y="1089" width="131" height="105"/><line class="l" x1="4308" y1="1114" x2="4439" y2="1114"/><line class="l" x1="4308" y1="1140" x2="4439" y2="1140"/>
<text class="c" x="4373" y="1106">ilAppEventHandler</text>
<text x="4316" y="1156"><tspan x="4316">+ __construct()</tspan><tspan x="4316" dy="14.6">+ raise()</tspan><tspan x="4316" dy="14.6"># initListeners()</tspan></text></g>

<g id="ilTreeImplementation"><rect class="b" x="4565" y="1030" width="180" height="222"/><line class="l" x1="4565" y1="1055" x2="4745" y2="1055"/><line class="l" x1="4565" y1="1081" x2="4745" y2="1081"/>
<text class="c" x="4655" y="1047">ilTreeImplementation</text>
<text x="4573" y="1097"><tspan x="4573">+ getSubTreeIds()</tspan><tspan x="4573" dy="14.6">+ getSubTreeQuery()</tspan><tspan x="4573" dy="14.6">+ getTrashSubTreeQuery()</tspan><tspan x="4573" dy="14.6">+ getRelation()</tspan><tspan x="4573" dy="14.6">+ getPathIds()</tspan><tspan x="4573" dy="14.6">+ insertNode()</tspan><tspan x="4573" dy="14.6">+ deleteTree()</tspan><tspan x="4573" dy="14.6">+ moveToTrash()</tspan><tspan x="4573" dy="14.6">+ moveTree()</tspan><tspan x="4573" dy="14.6">+ getSubtreeInfo()</tspan><tspan x="4573" dy="14.6">+ validateParentRelations()</tspan></text></g>

<g id="ilTree"><rect class="b" x="4375" y="1588" width="224" height="381"/><line class="l" x1="4375" y1="1613" x2="4599" y2="1613"/><line class="l" x1="4375" y1="1638" x2="4599" y2="1638"/>
<text class="c" x="4487" y="1605">ilTree</text>
<text x="4383" y="1629"># DEFAULT_GAP</text>
<text x="4383" y="1654"><tspan x="4383">+ __construct()</tspan><tspan x="4383" dy="14.6">+ initTreeImplementation()</tspan><tspan x="4383" dy="14.6">+ getTreeImplementation()</tspan><tspan x="4383" dy="14.6">+ useCache()</tspan><tspan x="4383" dy="14.6">+ getDepthCache()</tspan><tspan x="4383" dy="14.6">+ getParentCache()</tspan><tspan x="4383" dy="14.6">+ initLangCode()</tspan><tspan x="4383" dy="14.6">+ getTreeTable()</tspan><tspan x="4383" dy="14.6">+ getObjectDataTable()</tspan><tspan x="4383" dy="14.6">+ getTreePk()</tspan><tspan x="4383" dy="14.6">and 60 more...</tspan><tspan x="4383" dy="14.6">+ lookupTreesForNode()</tspan><tspan x="4383" dy="14.6">+ _removeEntry()</tspan><tspan x="4383" dy="14.6"># isCacheUsed()</tspan><tspan x="4383" dy="14.6"># resetInTreeCache()</tspan><tspan x="4383" dy="14.6"># fetchTranslationFromObject</tspan><tspan x="4383" dy="14.6">DataCache()</tspan><tspan x="4383" dy="14.6"># __renumber()</tspan><tspan x="4383" dy="14.6"># __checkDelete()</tspan><tspan x="4383" dy="14.6"># __getSubTreeByParentRelation()</tspan><tspan x="4383" dy="14.6"># __validateSubtrees()</tspan><tspan x="4383" dy="14.6"># isRepositoryTree()</tspan></text></g>

<g id="ilRbacReview"><rect class="b" x="5059" y="920" width="219" height="441"/><line class="l" x1="5059" y1="945" x2="5278" y2="945"/><line class="l" x1="5059" y1="971" x2="5278" y2="971"/>
<text class="c" x="5168" y="937">ilRbacReview</text>
<text x="5067" y="987"><tspan x="5067">+ __construct()</tspan><tspan x="5067" dy="14.6">+ roleExists()</tspan><tspan x="5067" dy="14.6">+ getParentRoleIds()</tspan><tspan x="5067" dy="14.6">+ getRoleListByObject()</tspan><tspan x="5067" dy="14.6">+ getAssignableRoles()</tspan><tspan x="5067" dy="14.6">+ getAssignableRolesInSubtree()</tspan><tspan x="5067" dy="14.6">+ getAssignableChildRoles()</tspan><tspan x="5067" dy="14.6">+ getLocalRoles()</tspan><tspan x="5067" dy="14.6">+ getLocalPolicies()</tspan><tspan x="5067" dy="14.6">+ getRolesOfRoleFolder()</tspan><tspan x="5067" dy="14.6">and 70 more...</tspan><tspan x="5067" dy="14.6">+ _getOperationIdsByName()</tspan><tspan x="5067" dy="14.6">+ _getOperationIdByName()</tspan><tspan x="5067" dy="14.6">+ lookupCreateOperationIds()</tspan><tspan x="5067" dy="14.6">+ _getOperationList()</tspan><tspan x="5067" dy="14.6">+ _groupOperationsByClass()</tspan><tspan x="5067" dy="14.6">+ _getCustomRBACOperationId()</tspan><tspan x="5067" dy="14.6">+ _isRBACOperation()</tspan><tspan x="5067" dy="14.6"># __getParentRoles()</tspan><tspan x="5067" dy="14.6"># __setTemplateFilter()</tspan><tspan x="5067" dy="14.6"># __setRoleType()</tspan><tspan x="5067" dy="14.6"># __setProtectedStatus()</tspan><tspan x="5067" dy="14.6">- getAssignableRolesGenerator()</tspan><tspan x="5067" dy="14.6">- setRoleTypeAndProtection()</tspan><tspan x="5067" dy="14.6">- buildRoleType()</tspan><tspan x="5067" dy="14.6">- buildProtectionByStringValue()</tspan></text></g>

<g id="ilRbacAdmin"><rect class="b" x="4868" y="1654" width="190" height="251"/><line class="l" x1="4868" y1="1679" x2="5058" y2="1679"/><line class="l" x1="4868" y1="1705" x2="5058" y2="1705"/>
<text class="c" x="4963" y="1671">ilRbacAdmin</text>
<text x="4876" y="1721"><tspan x="4876">+ __construct()</tspan><tspan x="4876" dy="14.6">+ setBlockedStatus()</tspan><tspan x="4876" dy="14.6">+ removeUser()</tspan><tspan x="4876" dy="14.6">+ deleteRole()</tspan><tspan x="4876" dy="14.6">+ deleteTemplate()</tspan><tspan x="4876" dy="14.6">+ deleteLocalRole()</tspan><tspan x="4876" dy="14.6">+ assignUserLimited()</tspan><tspan x="4876" dy="14.6">+ assignUser()</tspan><tspan x="4876" dy="14.6">+ deassignUser()</tspan><tspan x="4876" dy="14.6">+ grantPermission()</tspan><tspan x="4876" dy="14.6">and 18 more...</tspan><tspan x="4876" dy="14.6"># applyMovedObjectDidactic</tspan><tspan x="4876" dy="14.6">Templates()</tspan></text></g>

<g id="ilCronDeleteInactiveUserReminderMailNotification"><rect class="b" x="5640" y="1010" width="215" height="148"/><line class="l" x1="5640" y1="1049" x2="5855" y2="1049"/><line class="l" x1="5640" y1="1075" x2="5855" y2="1075"/>
<text class="c" x="5747" y="1027"><tspan x="5747">ilCronDeleteInactiveUser</tspan><tspan x="5747" dy="14.6">ReminderMailNotification</tspan></text>
<text x="5648" y="1091"><tspan x="5648">+ removeSingleUserFromTable()</tspan><tspan x="5648" dy="14.6">+ flushDataTable()</tspan><tspan x="5648" dy="14.6">+ removeEntriesFromTable()</tspan><tspan x="5648" dy="14.6">+ sendReminderMailIfNeeded()</tspan><tspan x="5648" dy="14.6">- mailSent()</tspan></text></g>

<g id="TranslationsRepository"><rect class="g" x="4764" y="2308" width="156" height="77"/><line class="lg" x1="4764" y1="2333" x2="4920" y2="2333"/><line class="lg" x1="4764" y1="2359" x2="4920" y2="2359"/><text class="c" x="4842" y="2325">TranslationsRepository</text></g>

<g id="Properties"><rect class="b" x="4944" y="2213" width="235" height="265"/><line class="l" x1="4944" y1="2252" x2="5179" y2="2252"/><line class="l" x1="4944" y1="2278" x2="5179" y2="2278"/>
<text class="c" x="5061" y="2230"><tspan x="5061">ILIAS\ILIASObject\Properties</tspan><tspan x="5061" dy="14.6">\Properties</tspan></text>
<text x="4952" y="2294"><tspan x="4952">+ __construct()</tspan><tspan x="4952" dy="14.6">+ storeCoreProperties()</tspan><tspan x="4952" dy="14.6">+ getOwner()</tspan><tspan x="4952" dy="14.6">+ withOwner()</tspan><tspan x="4952" dy="14.6">+ getImportId()</tspan><tspan x="4952" dy="14.6">+ withImportId()</tspan><tspan x="4952" dy="14.6">+ getPropertyTitleAndDescription()</tspan><tspan x="4952" dy="14.6">+ withPropertyTitleAndDescription()</tspan><tspan x="4952" dy="14.6">+ storePropertyTitleAndDescription()</tspan><tspan x="4952" dy="14.6">+ getPropertyIsOnline()</tspan><tspan x="4952" dy="14.6">and 16 more...</tspan><tspan x="4952" dy="14.6">- updateMetadataForTitleAnd</tspan><tspan x="4952" dy="14.6">Description()</tspan></text></g>

<g id="Aggregator"><rect class="b" x="5204" y="2286" width="168" height="119"/><line class="l" x1="5204" y1="2325" x2="5372" y2="2325"/><line class="l" x1="5204" y1="2351" x2="5372" y2="2351"/>
<text class="c" x="5288" y="2303"><tspan x="5288">ILIAS\ILIASObject\Properties</tspan><tspan x="5288" dy="14.6">\Aggregator</tspan></text>
<text x="5212" y="2367"><tspan x="5212">+ __construct()</tspan><tspan x="5212" dy="14.6">+ getFor()</tspan><tspan x="5212" dy="14.6">+ preload()</tspan></text></g>

<g id="LOMServices"><rect class="g" x="5510" y="2300" width="95" height="77"/><line class="lg" x1="5510" y1="2325" x2="5605" y2="2325"/><line class="lg" x1="5510" y1="2351" x2="5605" y2="2351"/><text class="c" x="5557" y="2317">LOMServices</text></g>

<g id="ilObject"><rect class="b" x="4210" y="2570" width="230" height="629"/><line class="l" x1="4210" y1="2595" x2="4440" y2="2595"/><line class="l" x1="4210" y1="2751" x2="4440" y2="2751"/>
<text class="c" x="4325" y="2587">ilObject</text>
<text x="4218" y="2611"><tspan x="4218"># $id</tspan><tspan x="4218" dy="14.6"># $referenced</tspan><tspan x="4218" dy="14.6"># $ref_id</tspan><tspan x="4218" dy="14.6"># $owner</tspan><tspan x="4218" dy="14.6"># $register</tspan><tspan x="4218" dy="14.6"># $max_title</tspan><tspan x="4218" dy="14.6"># $max_desc</tspan><tspan x="4218" dy="14.6"># $add_dots</tspan><tspan x="4218" dy="14.6"># $obj_data_record</tspan><tspan x="4218" dy="14.6">and 4 more...</tspan></text>
<text x="4218" y="2767"><tspan x="4218">+ __construct()</tspan><tspan x="4218" dy="14.6">+ withReferences()</tspan><tspan x="4218" dy="14.6">+ processAutoRating()</tspan><tspan x="4218" dy="14.6">+ read()</tspan><tspan x="4218" dy="14.6">+ getId()</tspan><tspan x="4218" dy="14.6">+ setId()</tspan><tspan x="4218" dy="14.6">+ setRefId()</tspan><tspan x="4218" dy="14.6">+ getRefId()</tspan><tspan x="4218" dy="14.6">+ getType()</tspan><tspan x="4218" dy="14.6">+ setType()</tspan><tspan x="4218" dy="14.6">and 120 more...</tspan><tspan x="4218" dy="14.6">+ _lookupObjIdByImportId()</tspan><tspan x="4218" dy="14.6">+ _lookupImportId()</tspan><tspan x="4218" dy="14.6">+ _lookupOwnerName()</tspan><tspan x="4218" dy="14.6">+ _lookupTitle()</tspan><tspan x="4218" dy="14.6">+ _lookupDescription()</tspan><tspan x="4218" dy="14.6">+ _lookupOwner()</tspan><tspan x="4218" dy="14.6">+ _getIdsForTitle()</tspan><tspan x="4218" dy="14.6">+ _lookupType()</tspan><tspan x="4218" dy="14.6">+ _isInTrash()</tspan><tspan x="4218" dy="14.6">and 34 more...</tspan><tspan x="4218" dy="14.6"># doRead()</tspan><tspan x="4218" dy="14.6"># doUpdate()</tspan><tspan x="4218" dy="14.6"># beforeUpdate()</tspan><tspan x="4218" dy="14.6"># doCreate()</tspan><tspan x="4218" dy="14.6"># beforeCreate()</tspan><tspan x="4218" dy="14.6"># doDelete()</tspan><tspan x="4218" dy="14.6"># beforeDelete()</tspan><tspan x="4218" dy="14.6"># doCloneObject()</tspan><tspan x="4218" dy="14.6"># appendCopyInfo()</tspan></text></g>

<g id="ilObjUser"><rect class="b" x="3572" y="3357" width="201" height="702"/><line class="l" x1="3572" y1="3382" x2="3773" y2="3382"/><line class="l" x1="3572" y1="3713" x2="3773" y2="3713"/>
<text class="c" x="3672" y="3374">ilObjUser</text>
<text x="3580" y="3398"><tspan x="3580">+ $login</tspan><tspan x="3580" dy="14.6">+ $gender</tspan><tspan x="3580" dy="14.6">+ $utitle</tspan><tspan x="3580" dy="14.6">+ $firstname</tspan><tspan x="3580" dy="14.6">+ $lastname</tspan><tspan x="3580" dy="14.6">+ $fullname</tspan><tspan x="3580" dy="14.6">+ $department</tspan><tspan x="3580" dy="14.6">+ $street</tspan><tspan x="3580" dy="14.6">+ $city</tspan><tspan x="3580" dy="14.6">+ $country</tspan><tspan x="3580" dy="14.6">and 12 more...</tspan><tspan x="3580" dy="14.6"># $time_limit_message</tspan><tspan x="3580" dy="14.6"># $last_login</tspan><tspan x="3580" dy="14.6"># $passwd</tspan><tspan x="3580" dy="14.6"># $password_encoding_type</tspan><tspan x="3580" dy="14.6"># $password_salt</tspan><tspan x="3580" dy="14.6"># $birthday</tspan><tspan x="3580" dy="14.6"># $second_email</tspan><tspan x="3580" dy="14.6"># $inactivation_date</tspan><tspan x="3580" dy="14.6"># $org_units</tspan><tspan x="3580" dy="14.6"># $last_profile_prompt</tspan><tspan x="3580" dy="14.6"># $avatar_rid</tspan></text>
<text x="3580" y="3729"><tspan x="3580">+ __construct()</tspan><tspan x="3580" dy="14.6">+ read()</tspan><tspan x="3580" dy="14.6">+ getPasswordEncodingType()</tspan><tspan x="3580" dy="14.6">+ setPasswordEncodingType()</tspan><tspan x="3580" dy="14.6">+ getPasswordSalt()</tspan><tspan x="3580" dy="14.6">+ setPasswordSalt()</tspan><tspan x="3580" dy="14.6">+ assignData()</tspan><tspan x="3580" dy="14.6">+ saveAsNew()</tspan><tspan x="3580" dy="14.6">+ update()</tspan><tspan x="3580" dy="14.6">+ writeAccepted()</tspan><tspan x="3580" dy="14.6">and 169 more...</tspan><tspan x="3580" dy="14.6">+ _lookupFullname()</tspan><tspan x="3580" dy="14.6">+ _lookupEmail()</tspan><tspan x="3580" dy="14.6">+ _lookupGender()</tspan><tspan x="3580" dy="14.6">+ _lookupClientIP()</tspan><tspan x="3580" dy="14.6">+ _lookupLogin()</tspan><tspan x="3580" dy="14.6">+ _lookupExternalAccount()</tspan><tspan x="3580" dy="14.6">+ _lookupLastLogin()</tspan><tspan x="3580" dy="14.6">+ _lookupFirstLogin()</tspan><tspan x="3580" dy="14.6">and 61 more...</tspan><tspan x="3580" dy="14.6"># buildTextFromArray()</tspan><tspan x="3580" dy="14.6"># updateAvatar()</tspan></text></g>

<g id="ilPageObject"><rect class="b" x="4046" y="4187" width="234" height="571"/><line class="l" x1="4046" y1="4212" x2="4280" y2="4212"/><line class="l" x1="4046" y1="4251" x2="4280" y2="4251"/>
<text class="c" x="4163" y="4204">ilPageObject</text>
<text x="4054" y="4228"><tspan x="4054">+ $encoding</tspan><tspan x="4054" dy="14.6"># $concrete_lang</tspan></text>
<text x="4054" y="4267"><tspan x="4054">+ __construct()</tspan><tspan x="4054" dy="14.6">+ setContentIdManager()</tspan><tspan x="4054" dy="14.6">+ afterConstructor()</tspan><tspan x="4054" dy="14.6">+ getParentType()</tspan><tspan x="4054" dy="14.6">+ initPageConfig()</tspan><tspan x="4054" dy="14.6">+ setLanguage()</tspan><tspan x="4054" dy="14.6">+ getLanguage()</tspan><tspan x="4054" dy="14.6">+ setPageConfig()</tspan><tspan x="4054" dy="14.6">+ setConcreteLang()</tspan><tspan x="4054" dy="14.6">+ getConcreteLang()</tspan><tspan x="4054" dy="14.6">and 126 more...</tspan><tspan x="4054" dy="14.6">+ _exists()</tspan><tspan x="4054" dy="14.6">+ _existsAndNotEmpty()</tspan><tspan x="4054" dy="14.6">+ preloadActivationDataByParentId()</tspan><tspan x="4054" dy="14.6">+ _lookupActive()</tspan><tspan x="4054" dy="14.6">+ _isScheduledActivation()</tspan><tspan x="4054" dy="14.6">+ _writeActive()</tspan><tspan x="4054" dy="14.6">+ _lookupActivationData()</tspan><tspan x="4054" dy="14.6">+ lookupParentId()</tspan><tspan x="4054" dy="14.6">+ _writeParentId()</tspan><tspan x="4054" dy="14.6">+ _lookupContainsDeactivated</tspan><tspan x="4054" dy="14.6">Elements()</tspan><tspan x="4054" dy="14.6">and 9 more...</tspan><tspan x="4054" dy="14.6"># getIliasAbsolutePath()</tspan><tspan x="4054" dy="14.6"># getLangVarXML()</tspan><tspan x="4054" dy="14.6"># __afterUpdate()</tspan><tspan x="4054" dy="14.6"># isTranslationPage()</tspan><tspan x="4054" dy="14.6"># __beforeDelete()</tspan><tspan x="4054" dy="14.6"># __afterDelete()</tspan><tspan x="4054" dy="14.6"># afterDelete()</tspan><tspan x="4054" dy="14.6"># __afterHistoryEntry()</tspan><tspan x="4054" dy="14.6"># getContentManager()</tspan><tspan x="4054" dy="14.6"># setCopyProperties()</tspan><tspan x="4054" dy="14.6"># setTranslationProperties()</tspan></text></g>

<g id="DOMDocument"><rect class="g" x="5700" y="4470" width="90" height="77"/><line class="lg" x1="5700" y1="4495" x2="5790" y2="4495"/><line class="lg" x1="5700" y1="4521" x2="5790" y2="4521"/><text class="c" x="5745" y="4487">DOMDocument</text></g>
<g id="DomNode"><rect class="g" x="5845" y="4470" width="62" height="77"/><line class="lg" x1="5845" y1="4495" x2="5907" y2="4495"/><line class="lg" x1="5845" y1="4521" x2="5907" y2="4521"/><text class="c" x="5876" y="4487">DomNode</text></g>
<g id="object"><rect class="g" x="5985" y="4470" width="55" height="77"/><line class="lg" x1="5985" y1="4495" x2="6040" y2="4495"/><line class="lg" x1="5985" y1="4521" x2="6040" y2="4521"/><text class="c" x="6012" y="4487">object</text></g>

<g id="ilPortfolioPage"><rect class="p" x="5837" y="4813" width="210" height="426"/><line class="l" x1="5837" y1="4838" x2="6047" y2="4838"/><line class="l" x1="5837" y1="4864" x2="6047" y2="4864"/>
<text class="c" x="5942" y="4830">ilPortfolioPage</text>
<text x="5845" y="4880"><tspan x="5845">+ afterConstructor()</tspan><tspan x="5845" dy="14.6">+ getParentType()</tspan><tspan x="5845" dy="14.6">+ setPortfolioId()</tspan><tspan x="5845" dy="14.6">+ getPortfolioId()</tspan><tspan x="5845" dy="14.6">+ setType()</tspan><tspan x="5845" dy="14.6">+ getType()</tspan><tspan x="5845" dy="14.6">+ setTitle()</tspan><tspan x="5845" dy="14.6">+ getTitle()</tspan><tspan x="5845" dy="14.6">+ setOrderNr()</tspan><tspan x="5845" dy="14.6">+ getOrderNr()</tspan><tspan x="5845" dy="14.6">+ create()</tspan><tspan x="5845" dy="14.6">+ update()</tspan><tspan x="5845" dy="14.6">+ read()</tspan><tspan x="5845" dy="14.6">+ delete()</tspan><tspan x="5845" dy="14.6">+ renameLinksOnTitleChange()</tspan><tspan x="5845" dy="14.6">+ lookupMaxOrderNr()</tspan><tspan x="5845" dy="14.6">+ lookupTitle()</tspan><tspan x="5845" dy="14.6">+ lookupType()</tspan><tspan x="5845" dy="14.6">+ getAllPortfolioPages()</tspan><tspan x="5845" dy="14.6">+ fixOrdering()</tspan><tspan x="5845" dy="14.6">+ findPortfolioForPage()</tspan><tspan x="5845" dy="14.6">+ getGotoForPortfolioPageTarget()</tspan><tspan x="5845" dy="14.6">+ updateInternalLinks()</tspan><tspan x="5845" dy="14.6"># getPropertiesForDB()</tspan><tspan x="5845" dy="14.6"># lookupProperty()</tspan></text></g>
</svg>
